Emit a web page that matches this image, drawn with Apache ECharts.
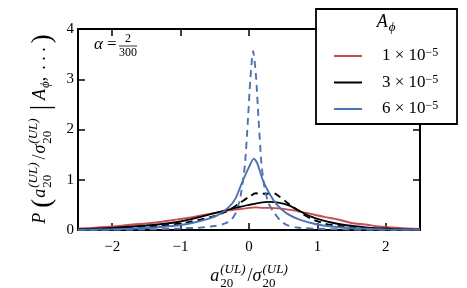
<!DOCTYPE html>
<html><head><meta charset="utf-8">
<script src="https://cdn.jsdelivr.net/npm/echarts@6/dist/echarts.min.js"></script>
<style>html,body{margin:0;padding:0;background:#fff}#c{width:467px;height:288px}</style>
</head><body><div id="c"></div>
<script>
// ---- data ----
const xTicks = [-2, -1, 0, 1, 2];
const yTicks = [0, 1, 2, 3, 4];
const legendNames = ['1 × 10^−5', '3 × 10^−5', '6 × 10^−5'];

const redX = [-2.5,-2.3,-2.1,-1.9,-1.7,-1.5,-1.3,-1.1,-0.9,-0.7,-0.5,-0.3,-0.1,0.1,0.2,0.3,0.5,0.7,0.9,1.1,1.3,1.5,1.7,1.9,2.1,2.3,2.5];
const redY = [0.03,0.04,0.06,0.08,0.11,0.13,0.16,0.2,0.24,0.29,0.34,0.39,0.42,0.45,0.44,0.44,0.42,0.38,0.32,0.26,0.21,0.14,0.11,0.07,0.05,0.03,0.02];

const blackX = [-2.5,-2.2,-2,-1.8,-1.5,-1.2,-1,-0.8,-0.6,-0.4,-0.2,0,0.15,0.3,0.45,0.6,0.75,0.9,1.05,1.2,1.4,1.6,1.8,2,2.2,2.5];
const blackY = [0.015,0.03,0.04,0.06,0.09,0.13,0.17,0.23,0.3,0.37,0.44,0.5,0.54,0.56,0.54,0.48,0.37,0.27,0.2,0.15,0.1,0.07,0.04,0.03,0.015,0.005];

const blackDashX = [-2.5,-2,-1.5,-1,-0.7,-0.5,-0.3,-0.15,0,0.1,0.18,0.25,0.35,0.45,0.55,0.65,0.75,0.9,1.1,1.3,1.6,2,2.5];
const blackDashY = [0.005,0.02,0.06,0.13,0.21,0.28,0.39,0.52,0.66,0.73,0.72,0.72,0.74,0.66,0.55,0.45,0.35,0.23,0.13,0.08,0.04,0.015,0.005];

const blueX = [-2.5,-2,-1.5,-1.2,-1,-0.8,-0.6,-0.45,-0.3,-0.2,-0.1,0,0.07,0.12,0.2,0.3,0.41,0.55,0.75,1,1.2,1.5,2,2.5];
const blueY = [0.005,0.015,0.04,0.07,0.1,0.15,0.22,0.3,0.45,0.62,0.95,1.25,1.42,1.33,1.0,0.72,0.5,0.33,0.2,0.11,0.07,0.035,0.012,0.004];

const blueDashX = [-2.5,-2,-1.5,-1,-0.7,-0.5,-0.35,-0.25,-0.18,-0.12,-0.06,-0.02,0.02,0.06,0.1,0.14,0.18,0.22,0.28,0.35,0.45,0.55,0.7,1,1.5,2,2.5];
const blueDashY = [0,0.003,0.01,0.03,0.05,0.08,0.13,0.22,0.38,0.7,1.3,2.1,3.0,3.56,3.1,2.2,1.35,0.9,0.55,0.38,0.2,0.1,0.05,0.025,0.008,0.002,0];

// ---- styles ----
const RED = '#c44e52', BLACK = '#000000', BLUE = '#4c72b0';
const FONT = 'Liberation Serif';
const zip = (xs, ys) => xs.map((x, i) => [x, ys[i]]);
const fmtTick = v => (v < 0 ? '\u2212' + (-v) : String(v));

// math-like text builder
const mctx = document.createElement('canvas').getContext('2d');
function tw(t, fs, it) { mctx.font = (it ? 'italic ' : '') + fs + 'px "' + FONT + '"'; return mctx.measureText(t).width; }
function txt(t, x, base, fs, it) {
  return { type: 'text', x: x, y: base - 0.3 * fs, z: 30,
    style: { text: t, fontSize: fs, fontFamily: FONT, fontStyle: it ? 'italic' : 'normal', fill: '#000', align: 'left', verticalAlign: 'middle' } };
}
function mathGroup(pieces, cx, base, rot) {
  let x = 0; const kids = [];
  pieces.forEach(p => {
    if (p.gap !== undefined) { x += p.gap; return; }
    const fs = p.fs, it = !!p.it;
    kids.push(txt(p.t, x, (p.dy || 0), fs, it));
    x += tw(p.t, fs, it);
    let sw = 0;
    const sfs = p.sfs || Math.round(fs * 0.7);
    if (p.sup) { kids.push(txt(p.sup, x + 1, -fs * (p.sub ? 0.45 : 0.42), sfs, p.supIt)); sw = Math.max(sw, tw(p.sup, sfs, p.supIt) + 1); }
    if (p.sub) { kids.push(txt(p.sub, x + 1, fs * (p.sup ? 0.33 : 0.22), sfs, p.subIt)); sw = Math.max(sw, tw(p.sub, sfs, p.subIt) + 1); }
    x += sw;
  });
  kids.forEach(k => { k.x -= x / 2; });
  return { type: 'group', x: cx, y: base, rotation: rot || 0, z: 30, children: kids };
}

const xLabel = mathGroup([
  { t: 'a', fs: 18, it: true, sup: '(UL)', supIt: true, sub: '20', sfs: 13 },
  { gap: 2 },
  { t: '/', fs: 18 },
  { t: 'σ', fs: 18, it: true, sup: '(UL)', supIt: true, sub: '20', sfs: 13 }
], 249, 282, 0);

const yLabel = mathGroup([
  { t: 'P', fs: 18, it: true },
  { gap: 5 },
  { t: '(', fs: 27, dy: 5 },
  { gap: 1 },
  { t: 'a', fs: 18, it: true, sup: '(UL)', supIt: true, sub: '20', sfs: 13 },
  { gap: 3 },
  { t: '/', fs: 18 },
  { gap: 1 },
  { t: 'σ', fs: 18, it: true, sup: '(UL)', supIt: true, sub: '20', sfs: 13 },
  { gap: 8 },
  { t: '|', fs: 27, dy: 4 },
  { gap: 5 },
  { t: 'A', fs: 18, it: true, sub: 'ϕ', subIt: true, sfs: 13 },
  { t: ',', fs: 18 },
  { gap: 7 },
  { t: '. . .', fs: 18 },
  { gap: 4 },
  { t: ')', fs: 27, dy: 5 }
], 46, 129, Math.PI / 2);

const legendTitle = mathGroup([
  { t: 'A', fs: 18, it: true, sub: 'ϕ', subIt: true, sfs: 13 }
], 386, 28, 0);

const alphaGroup = [
  txt('α', 94, 50, 17, true),
  txt('=', 107, 50, 17, false),
  { type: 'text', x: 128, y: 39, z: 30, style: { text: '2', fontSize: 12, fontFamily: FONT, fill: '#000', align: 'center', verticalAlign: 'middle' } },
  { type: 'line', z: 30, shape: { x1: 119, y1: 46, x2: 137, y2: 46 }, style: { stroke: '#000', lineWidth: 0.8 } },
  { type: 'text', x: 128, y: 53, z: 30, style: { text: '300', fontSize: 12, fontFamily: FONT, fill: '#000', align: 'center', verticalAlign: 'middle' } }
];

const axisBase = {
  axisLine: { show: true, onZero: false, lineStyle: { color: '#000', width: 2 } },
  axisTick: { show: true, inside: true, length: 7, lineStyle: { color: '#000', width: 1.5 } },
  splitLine: { show: false }
};

function lineSeries(name, data, color, dashed) {
  return {
    type: 'line', name: name, data: data, xAxisIndex: 0, yAxisIndex: 0,
    symbol: 'none', smooth: 0.25, z: dashed ? 3 : 4,
    lineStyle: { color: color, width: 1.9, type: dashed ? [7, 5] : 'solid' },
    itemStyle: { color: color }
  };
}

const chart = echarts.init(document.getElementById('c'), null, { renderer: 'canvas' });
chart.setOption({
  animation: false,
  backgroundColor: '#fff',
  grid: { left: 78, right: 47, top: 29, bottom: 58, containLabel: false },
  xAxis: [
    Object.assign({}, axisBase, { type: 'value', position: 'bottom', min: -2.5, max: 2.5,
      axisTick: Object.assign({}, axisBase.axisTick, { customValues: xTicks }),
      axisLabel: { customValues: xTicks, formatter: fmtTick, margin: 10, fontSize: 15, fontFamily: FONT, color: '#000' } }),
    Object.assign({}, axisBase, { type: 'value', position: 'top', min: -2.5, max: 2.5,
      axisTick: Object.assign({}, axisBase.axisTick, { customValues: xTicks }),
      axisLabel: { show: false } })
  ],
  yAxis: [
    Object.assign({}, axisBase, { type: 'value', position: 'left', min: 0, max: 4, interval: 1,
      axisLabel: { formatter: fmtTick, margin: 4, fontSize: 15, fontFamily: FONT, color: '#000' } }),
    Object.assign({}, axisBase, { type: 'value', position: 'right', min: 0, max: 4, interval: 1,
      axisLabel: { show: false } })
  ],
  legend: {
    data: legendNames, orient: 'vertical', left: 329, top: 42, z: 20,
    icon: 'rect', itemWidth: 28, itemHeight: 2, itemGap: 9,
    formatter: n => { const p = n.split('^'); return '{sp|}{n|' + p[0] + '}{s|' + p[1] + '}'; },
    textStyle: {
      color: '#000', fontFamily: FONT,
      rich: {
        sp: { width: 15, lineHeight: 18 },
        n: { fontSize: 17, fontFamily: FONT, lineHeight: 18, verticalAlign: 'middle' },
        s: { fontSize: 12, fontFamily: FONT, lineHeight: 18, verticalAlign: 'top' }
      }
    }
  },
  graphic: [
    { type: 'rect', z: 15, shape: { x: 316, y: 9, width: 141, height: 115 }, style: { fill: '#fff', stroke: '#000', lineWidth: 1.8 } },
    legendTitle, xLabel, yLabel
  ].concat(alphaGroup),
  series: [
    lineSeries(legendNames[0], zip(redX, redY), RED, false),
    lineSeries(legendNames[1], zip(blackX, blackY), BLACK, false),
    lineSeries('3e-5 alt', zip(blackDashX, blackDashY), BLACK, true),
    lineSeries(legendNames[2], zip(blueX, blueY), BLUE, false),
    lineSeries('6e-5 alt', zip(blueDashX, blueDashY), BLUE, true)
  ]
});
</script></body></html>
